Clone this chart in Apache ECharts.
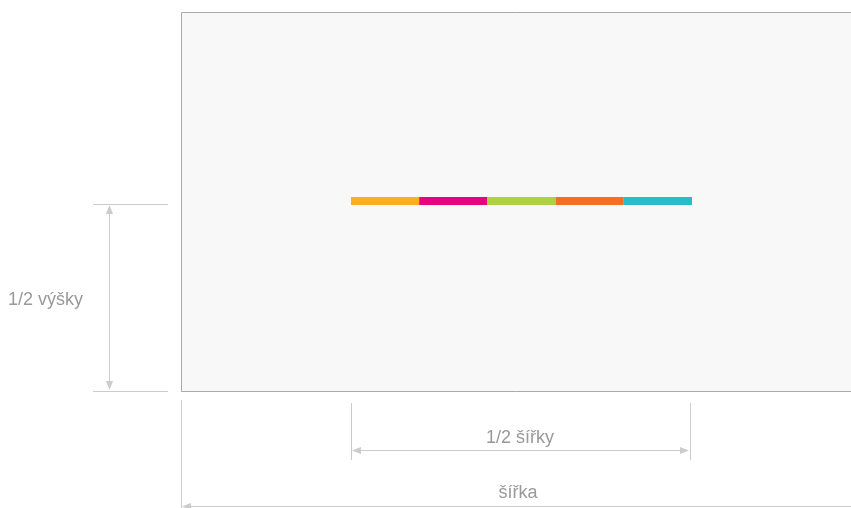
<!DOCTYPE html>
<html><head><meta charset="utf-8">
<script src="https://cdn.jsdelivr.net/npm/echarts@6/dist/echarts.min.js"></script>
<style>html,body{margin:0;padding:0;background:#fff}#c{width:851px;height:508px}</style>
</head><body><div id="c"></div>
<script>
const categories = ['a'];
const seriesNames = ['s1','s2','s3','s4','s5'];
const seriesValues = [[1],[1],[1],[1],[1]];
const colors = ['#FBAE23','#E7047F','#ADD140','#F56E22','#28BEC5'];
const labels = { halfHeight: '1/2 výšky', halfWidth: '1/2 šířky', width: 'šířka' };

const chart = echarts.init(document.getElementById('c'), null, {renderer:'canvas'});
const lineStyle = { stroke: '#cccccc', lineWidth: 1 };
function line(x1,y1,x2,y2){ return {type:'line', silent:true, shape:{x1,y1,x2,y2}, style:lineStyle, z:-5}; }
function tri(points){ return {type:'polygon', silent:true, shape:{points}, style:{fill:'#cccccc'}, z:-5}; }
const textStyle = { fill:'#999999', fontSize:18, fontFamily:'Liberation Sans, Helvetica, Arial, sans-serif' };

chart.setOption({
  animation:false,
  grid:{ left:351, width:341, top:197, height:8 },
  xAxis:{ type:'value', min:0, max:5, show:false },
  yAxis:{ type:'category', data:categories, show:false },
  series: seriesNames.map((n,i)=>({
    name:n, type:'bar', stack:'total', data:seriesValues[i], barWidth:8,
    itemStyle:{ color:colors[i] }, silent:true
  })),
  graphic:[
    {type:'rect', silent:true, z:-10, shape:{x:181.5,y:12.5,width:700,height:379}, style:{fill:'#f8f8f8', stroke:'#aaaaaa', lineWidth:1}},
    line(93,204.5,168,204.5),
    line(93,391.5,168,391.5),
    line(109.5,210,109.5,385),
    tri([[109.5,205],[106,214],[113,214]]),
    tri([[109.5,390],[106,381],[113,381]]),
    {type:'text', silent:true, style:Object.assign({text:labels.halfHeight, x:8, y:300, textVerticalAlign:'middle', textAlign:'left'}, textStyle)},
    line(351.5,403,351.5,460),
    line(690.5,403,690.5,460),
    line(357,450.5,684,450.5),
    tri([[352,450.5],[361,447],[361,454]]),
    tri([[689,450.5],[680,447],[680,454]]),
    {type:'text', silent:true, style:Object.assign({text:labels.halfWidth, x:520, y:438, textVerticalAlign:'middle', textAlign:'center'}, textStyle)},
    line(181.5,400,181.5,508),
    line(186,506.5,860,506.5),
    tri([[182,506.5],[191,503],[191,510]]),
    {type:'text', silent:true, style:Object.assign({text:labels.width, x:518, y:493, textVerticalAlign:'middle', textAlign:'center'}, textStyle)}
  ]
});
</script></body></html>
